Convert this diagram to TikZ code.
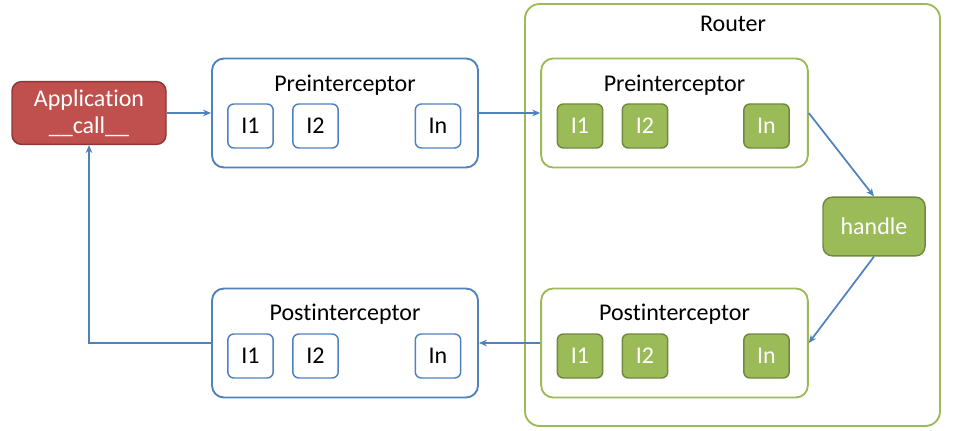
\documentclass[tikz,border=0pt]{standalone}
\usepackage{fontspec}
\setmainfont{Carlito}[Ligatures=NoCommon]
\usetikzlibrary{arrows.meta}
\definecolor{ablue}{HTML}{4F81BD}
\definecolor{agreen}{HTML}{9BBB59}
\definecolor{dgreen}{HTML}{71893F}
\definecolor{ared}{HTML}{C0504D}
\definecolor{dred}{HTML}{8C3836}
\tikzset{
  grp/.style={rectangle, rounded corners=9pt, minimum width=199.5pt, minimum height=81.75pt, draw=ablue, line width=1.4pt},
  rgrp/.style={rectangle, rounded corners=9pt, minimum width=200pt, minimum height=81.75pt, draw=agreen, line width=1.4pt},
  itc/.style={rectangle, rounded corners=4.5pt, minimum width=34pt, minimum height=33pt, text centered, draw=ablue, line width=1.1pt},
  ritc/.style={rectangle, rounded corners=4.5pt, minimum width=34pt, minimum height=33pt, text centered, draw=dgreen, fill=agreen, text=white, line width=1.1pt},
  app/.style={rectangle, rounded corners=7pt, minimum width=115.5pt, minimum height=47pt, text centered, draw=dred, fill=ared, text=white, line width=1.1pt, align=center},
  hd/.style={rectangle, rounded corners=7pt, minimum width=76.5pt, minimum height=44pt, text centered, draw=dgreen, fill=agreen, text=white, line width=1.1pt},
  ttl/.style={inner sep=0pt},
  arr/.style={draw=ablue, line width=1.3pt, -{Stealth[length=6pt,width=5pt]}}
}

\begin{document}
\begin{tikzpicture}[x=0.75pt, y=-0.75pt, font=\fontsize{18}{20}\selectfont]
	\useasboundingbox (0,0) rectangle (955,431);

	\node[rectangle, rounded corners=11pt, minimum width=311.25pt, minimum height=316.5pt, draw=agreen, line width=1.4pt] (router) at (732.5,215) {};
	\node[ttl] (rtitle) at (733,24) {Router};

	\node[app] (app) at (89,113) {Application\\\_\_call\_\_};

	\node[grp] (pre) at (345,113) {};
	\node[ttl] (pretitle) at (345,85) {Preinterceptor};
	\node[itc] (pre1) at (250.5,126) {I1};
	\node[itc] (pre2) at (315.5,126) {I2};
	\node[itc] (pren) at (438,126) {In};

	\node[rgrp] (rpre) at (674.5,113) {};
	\node[ttl] (rpretitle) at (674.5,85) {Preinterceptor};
	\node[ritc] (rpre1) at (580,126) {I1};
	\node[ritc] (rpre2) at (645,126) {I2};
	\node[ritc] (rpren) at (766.5,126) {In};

	\node[hd] (handle) at (874,226.5) {handle};

	\node[grp] (post) at (345,343) {};
	\node[ttl] (posttitle) at (345,314) {Postinterceptor};
	\node[itc] (post1) at (250.5,356) {I1};
	\node[itc] (post2) at (315.5,356) {I2};
	\node[itc] (postn) at (438,356) {In};

	\node[rgrp] (rpost) at (674.5,343) {};
	\node[ttl] (rposttitle) at (674.5,314) {Postinterceptor};
	\node[ritc] (rpost1) at (580,356) {I1};
	\node[ritc] (rpost2) at (645,356) {I2};
	\node[ritc] (rpostn) at (766.5,356) {In};

	\draw[arr] (app) -- (pre);
	\draw[arr] (pre) -- (rpre);
	\draw[arr] (rpre.east) -- (handle.north);
	\draw[arr] (handle.south) -- (rpost.east);
	\draw[arr] (rpost) -- (post);
	\draw[arr] (post.west) -| (app.south);
\end{tikzpicture}
\end{document}
